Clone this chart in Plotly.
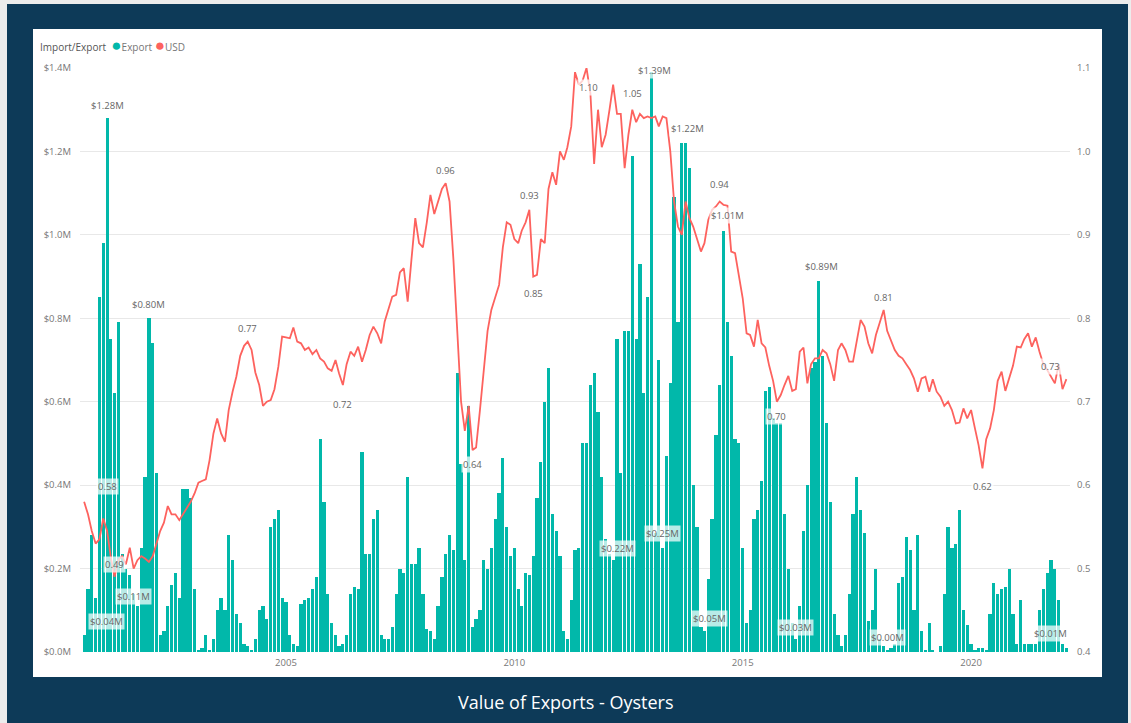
import pandas as pd
import plotly.graph_objects as go

# ---------------- data ----------------
first_month = "2000-08-01"
n_months = 259
months = pd.date_range(first_month, periods=n_months, freq="MS")

# Value of oyster exports (USD millions), monthly
export_musd = [
    0.04, 0.15, 0.28, 0.13, 0.85, 0.98, 1.28, 0.75, 0.62, 0.79,
    0.235, 0.20, 0.185, 0.14, 0.11, 0.25, 0.42, 0.80, 0.74, 0.43,
    0.04, 0.05, 0.11, 0.16, 0.19, 0.13, 0.39, 0.39, 0.37, 0.15,
    0.005, 0.01, 0.04, 0.005, 0.03, 0.10, 0.13, 0.10, 0.28, 0.22,
    0.09, 0.07, 0.02, 0.015, 0.005, 0.03, 0.10, 0.11, 0.08, 0.30,
    0.32, 0.34, 0.13, 0.12, 0.04, 0.02, 0.015, 0.115, 0.125, 0.13,
    0.15, 0.18, 0.51, 0.36, 0.14, 0.07, 0.04, 0.015, 0.02, 0.04,
    0.14, 0.155, 0.15, 0.48, 0.235, 0.235, 0.32, 0.34, 0.04, 0.03,
    0.03, 0.06, 0.14, 0.20, 0.19, 0.42, 0.21, 0.21, 0.25, 0.14,
    0.055, 0.05, 0.03, 0.11, 0.18, 0.235, 0.28, 0.245, 0.67, 0.45,
    0.22, 0.59, 0.06, 0.08, 0.10, 0.22, 0.20, 0.25, 0.32, 0.38,
    0.465, 0.30, 0.23, 0.25, 0.15, 0.11, 0.19, 0.185, 0.23, 0.37,
    0.455, 0.60, 0.68, 0.33, 0.29, 0.23, 0.05, 0.03, 0.125, 0.245,
    0.25, 0.50, 0.50, 0.64, 0.67, 0.575, 0.42, 0.27, 0.235, 0.22,
    0.75, 0.43, 0.77, 0.77, 1.19, 0.75, 0.93, 0.62, 0.85, 1.39,
    0.285, 0.70, 0.25, 0.47, 0.645, 1.09, 0.79, 1.22, 1.22, 1.16,
    0.40, 0.30, 0.06, 0.05, 0.175, 0.32, 0.52, 0.64, 1.01, 0.79,
    0.71, 0.51, 0.50, 0.25, 0.07, 0.10, 0.32, 0.34, 0.41, 0.625,
    0.635, 0.56, 0.55, 0.55, 0.33, 0.20, 0.07, 0.03, 0.11, 0.29,
    0.40, 0.68, 0.695, 0.89, 0.71, 0.55, 0.36, 0.09, 0.04, 0.015,
    0.04, 0.14, 0.33, 0.42, 0.34, 0.285, 0.075, 0.10, 0.20, 0.03,
    0.015, 0.003, 0.01, 0.02, 0.165, 0.18, 0.275, 0.245, 0.10, 0.28,
    0.05, 0.005, 0.07, 0.005, 0.0, 0.015, 0.14, 0.30, 0.25, 0.26,
    0.34, 0.10, 0.065, 0.02, 0.005, 0.01, 0.01, 0.005, 0.09, 0.165,
    0.14, 0.15, 0.155, 0.20, 0.09, 0.02, 0.125, 0.02, 0.02, 0.02,
    0.02, 0.10, 0.15, 0.19, 0.22, 0.20, 0.125, 0.02, 0.01,
]

# USD exchange rate (right axis), monthly
usd_rate = [
    0.58, 0.565, 0.545, 0.53, 0.535, 0.56, 0.545, 0.515, 0.49, 0.51,
    0.515, 0.505, 0.525, 0.50, 0.51, 0.515, 0.512, 0.508, 0.515, 0.528,
    0.545, 0.555, 0.575, 0.565, 0.565, 0.558, 0.565, 0.572, 0.58, 0.59,
    0.603, 0.605, 0.607, 0.63, 0.662, 0.68, 0.662, 0.652, 0.69, 0.712,
    0.73, 0.755, 0.767, 0.772, 0.762, 0.735, 0.72, 0.695, 0.70, 0.702,
    0.715, 0.742, 0.778, 0.777, 0.776, 0.789, 0.772, 0.77, 0.762, 0.765,
    0.757, 0.762, 0.752, 0.748, 0.74, 0.737, 0.75, 0.734, 0.72, 0.745,
    0.76, 0.755, 0.766, 0.748, 0.762, 0.78, 0.79, 0.782, 0.77, 0.796,
    0.81, 0.826, 0.828, 0.855, 0.86, 0.82, 0.87, 0.92, 0.89, 0.885,
    0.915, 0.948, 0.925, 0.94, 0.955, 0.962, 0.94, 0.87, 0.79, 0.70,
    0.665, 0.695, 0.642, 0.645, 0.69, 0.74, 0.785, 0.81, 0.825, 0.84,
    0.885, 0.915, 0.912, 0.895, 0.89, 0.905, 0.915, 0.93, 0.85, 0.852,
    0.895, 0.89, 0.955, 0.975, 0.96, 1.0, 0.99, 1.005, 1.03, 1.095,
    1.08, 1.085, 1.10, 1.07, 0.985, 1.05, 1.005, 1.02, 1.05, 1.08,
    1.045, 1.045, 0.98, 1.02, 1.05, 1.035, 1.045, 1.04, 1.042, 1.04,
    1.042, 1.03, 1.042, 1.04, 1.0, 0.94, 0.91, 0.90, 0.94, 0.92,
    0.91, 0.895, 0.88, 0.89, 0.918, 0.93, 0.934, 0.94, 0.936, 0.935,
    0.88, 0.878, 0.853, 0.824, 0.782, 0.78, 0.766, 0.798, 0.77, 0.765,
    0.743, 0.725, 0.70, 0.708, 0.72, 0.731, 0.713, 0.715, 0.76, 0.765,
    0.722, 0.745, 0.752, 0.752, 0.762, 0.758, 0.745, 0.725, 0.762, 0.77,
    0.762, 0.748, 0.748, 0.775, 0.798, 0.79, 0.77, 0.758, 0.78, 0.795,
    0.81, 0.785, 0.772, 0.762, 0.755, 0.752, 0.745, 0.738, 0.728, 0.712,
    0.728, 0.73, 0.712, 0.727, 0.712, 0.706, 0.695, 0.70, 0.69, 0.674,
    0.675, 0.692, 0.68, 0.69, 0.668, 0.648, 0.62, 0.655, 0.668, 0.69,
    0.725, 0.736, 0.713, 0.728, 0.743, 0.766, 0.765, 0.775, 0.782, 0.766,
    0.777, 0.76, 0.745, 0.738, 0.73, 0.722, 0.745, 0.715, 0.727,
]

year_ticks = ["2005", "2010", "2015", "2020"]
left_ticks = [0.0, 0.2, 0.4, 0.6, 0.8, 1.0, 1.2, 1.4]
right_ticks = [0.4, 0.5, 0.6, 0.7, 0.8, 0.9, 1.0, 1.1]

# indices of labelled points (month index)
bar_label_points = [0, 6, 14, 17, 139, 149, 152, 158, 163, 168, 187, 193, 211, 258]
line_label_points = [0, 8, 43, 68, 95, 102, 117, 118, 132, 144, 167, 182, 210, 236, 254]

# ---------------- styling ----------------
TEAL = "#01B8AA"
RED = "#FD625E"
NAVY = "#0D3A58"
FONT = "Open Sans"
W, H = 1131, 723
L, R, T, B = 80, 1070, 68, 652   # plot area in px


def px(x):
    return (x - L) / (R - L)


def py(y):
    return (B - y) / (B - T)


# label offsets (xshift, yshift) in px
bar_label_shift = {0: (22, 14), 6: (0, 13), 14: (-4, 10), 17: (0, 14), 139: (4, 12),
                   149: (3, 2), 152: (0, 14), 158: (2, 15), 163: (5, 13), 168: (4, 15),
                   187: (0, 12), 193: (3, 14), 211: (0, 13), 258: (-16, 14)}
line_label_shift = {0: (23, 15), 8: (0, 12), 43: (0, 13), 68: (0, -19), 95: (0, 13),
                    102: (0, -14), 117: (0, 14), 118: (0, -17), 132: (2, -19), 144: (0, 16),
                    167: (0, 17), 182: (0, -15), 210: (0, 12), 236: (0, -18), 254: (0, 10)}

fig = go.Figure()
fig.add_trace(go.Bar(x=months, y=export_musd, name="Export", marker_color=TEAL,
                     marker_line_width=0, width=2.2e9, showlegend=False))
fig.add_trace(go.Scatter(x=months, y=usd_rate, name="USD", yaxis="y2", mode="lines",
                         line=dict(color=RED, width=1.8), showlegend=False))

ann = []
for i in bar_label_points:
    xs, ys = bar_label_shift[i]
    ann.append(dict(x=months[i], y=export_musd[i], xref="x", yref="y",
                    text=f"${export_musd[i]:.2f}M", showarrow=False,
                    xshift=xs, yshift=ys, font=dict(family=FONT, size=9.5, color="#666"),
                    bgcolor="rgba(255,255,255,0.72)", borderpad=1))
for i in line_label_points:
    xs, ys = line_label_shift[i]
    ann.append(dict(x=months[i], y=usd_rate[i], xref="x", yref="y2",
                    text=f"{usd_rate[i]:.2f}", showarrow=False,
                    xshift=xs, yshift=ys, font=dict(family=FONT, size=9.5, color="#666"),
                    bgcolor="rgba(255,255,255,0.72)", borderpad=1))

# legend (Power BI style)
ann.append(dict(x=px(38), y=py(44), xref="paper", yref="paper", xanchor="left", yanchor="middle",
                showarrow=False, align="left",
                text=('<span style="color:#555">Import/Export</span>  '
                      f'<span style="color:{TEAL};font-size:17px">●</span>'
                      '<span style="color:#777">Export</span> '
                      f'<span style="color:{RED};font-size:17px">●</span>'
                      '<span style="color:#777">USD</span>'),
                font=dict(family=FONT, size=10, color="#666")))
# title
ann.append(dict(x=px(565), y=py(702), xref="paper", yref="paper", xanchor="center", yanchor="middle",
                showarrow=False, text="Value of Exports - Oysters",
                font=dict(family=FONT, size=18, color="white")))

shapes = [
    dict(type="rect", xref="paper", yref="paper", x0=px(7), x1=px(1128), y0=py(740), y1=py(4),
         fillcolor=NAVY, line_width=0, layer="below"),
    dict(type="rect", xref="paper", yref="paper", x0=px(33), x1=px(1102), y0=py(677), y1=py(29),
         fillcolor="white", line_width=0, layer="below"),
]

fig.update_layout(
    width=W, height=H,
    margin=dict(l=L, r=W - R, t=T, b=H - B, pad=0),
    paper_bgcolor="#ECECEC", plot_bgcolor="rgba(0,0,0,0)",
    font=dict(family=FONT, size=9.5, color="#777"),
    showlegend=False, bargap=0,
    annotations=ann, shapes=shapes,
    xaxis=dict(type="date", range=["2000-06-29", "2022-03-02"],
               tickvals=[f"{y}-01-01" for y in year_ticks], ticktext=year_ticks,
               showgrid=False, zeroline=False, showline=False, ticks="",
               ticklabelstandoff=3,
               tickfont=dict(size=9.5, color="#777")),
    yaxis=dict(range=[0, 1.4], tickvals=left_ticks,
               ticktext=[f"${v:.1f}M" for v in left_ticks],
               showgrid=True, gridcolor="#E8E8E8", gridwidth=1, zeroline=False,
               ticks="", ticklabelstandoff=8, tickfont=dict(size=9.5, color="#777")),
    yaxis2=dict(range=[0.4, 1.1], overlaying="y", side="right", tickvals=right_ticks,
                ticktext=[f"{v:.1f}" for v in right_ticks], showgrid=False, zeroline=False,
                ticks="", ticklabelstandoff=6, tickfont=dict(size=9.5, color="#777")),
)

fig.write_html(
    "out.html",
    config={"displayModeBar": False},
    post_script="document.body.style.margin='0';document.body.style.overflow='hidden';"
                "document.body.style.background='#ECECEC';",
)
